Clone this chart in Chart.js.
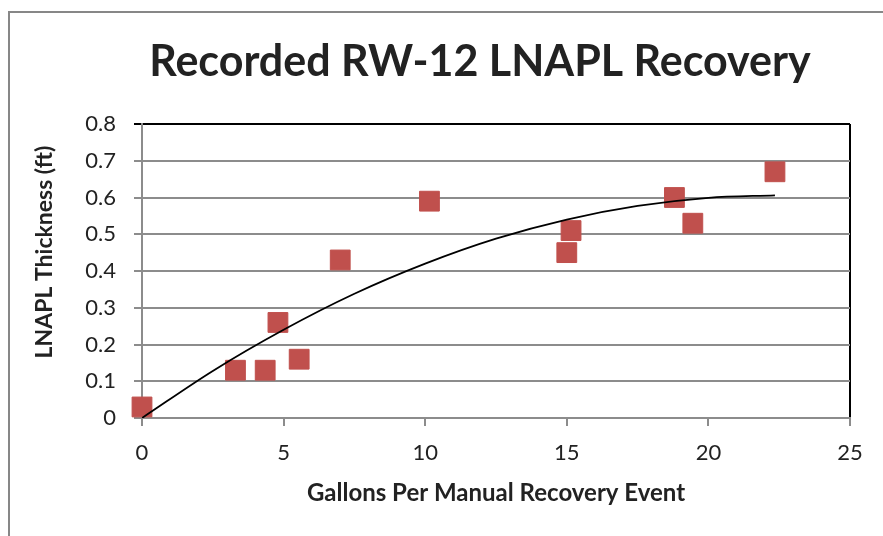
<!DOCTYPE html>
<html>
<head>
<meta charset="utf-8">
<title>Recorded RW-12 LNAPL Recovery</title>
<script src="https://cdn.jsdelivr.net/npm/chart.js@4.4.1/dist/chart.umd.min.js"></script>
<style>
    html, body { margin: 0; padding: 0; background: #fff; overflow: hidden; }
    #wrap { position: relative; width: 883px; height: 536px; }
    #frame {
        position: absolute; left: 8px; top: 11px; width: 900px; height: 560px;
        border-left: 2px solid #878787; border-top: 2px solid #878787;
    }
    #mainChart { position: absolute; left: 0; top: 0; }
</style>
</head>
<body>
<div id="wrap">
    <div id="frame"></div>
    <canvas id="mainChart" width="883" height="536"></canvas>
</div>
<script>
// 数据
const gallons = [0, 3.3, 4.35, 4.8, 5.55, 7.0, 10.15, 15.0, 15.15, 18.8, 19.45, 22.35];
const thickness = [0.03, 0.13, 0.13, 0.26, 0.16, 0.43, 0.59, 0.45, 0.51, 0.60, 0.53, 0.67];

// 趋势线 (二次多项式, 按图读点)
const trendX = [0, 2.5, 5, 7.5, 10, 12.5, 15, 17.5, 20, 22.35];
const trendY = [0, 0.128, 0.240, 0.338, 0.420, 0.488, 0.540, 0.577, 0.599, 0.606];

// 刻度标签
const xTickLabels = ['0', '5', '10', '15', '20', '25'];
const yTickLabels = ['0', '0.1', '0.2', '0.3', '0.4', '0.5', '0.6', '0.7', '0.8'];

const chartTitle = 'Recorded RW-12 LNAPL Recovery';
const xAxisTitle = 'Gallons Per Manual Recovery Event';
const yAxisTitle = 'LNAPL Thickness (ft)';

const FONT = 'Lato, "Open Sans", sans-serif';
const GRID_GRAY = '#8c8c8c';
const TEXT_COLOR = '#222';

// 标题和纵轴标题 (Excel 中位置不在绘图区正中)
const titlesPlugin = {
    id: 'excelTitles',
    afterDraw(chart) {
        const ctx = chart.ctx;
        ctx.save();
        ctx.fillStyle = TEXT_COLOR;
        ctx.textAlign = 'center';

        ctx.font = 'bold 43px ' + FONT;
        ctx.textBaseline = 'alphabetic';
        ctx.fillText(chartTitle, 480, 76);

        ctx.translate(45, 252);
        ctx.rotate(-Math.PI / 2);
        ctx.font = 'bold 23px ' + FONT;
        ctx.textBaseline = 'middle';
        ctx.fillText(yAxisTitle, 0, 0);
        ctx.restore();
    }
};

const ctx = document.getElementById('mainChart').getContext('2d');

new Chart(ctx, {
    type: 'scatter',
    data: {
        datasets: [
            {
                label: 'Trend',
                type: 'line',
                data: trendX.map((x, i) => ({ x: x, y: trendY[i] })),
                borderColor: '#000',
                borderWidth: 1.8,
                pointRadius: 0,
                fill: false,
                cubicInterpolationMode: 'monotone',
                order: 0
            },
            {
                label: 'LNAPL Thickness',
                data: gallons.map((x, i) => ({ x: x, y: thickness[i] })),
                pointStyle: 'rect',
                pointRadius: 14,
                backgroundColor: '#C0504D',
                borderColor: '#C0504D',
                borderWidth: 1,
                clip: false,
                order: 1
            }
        ]
    },
    options: {
        responsive: false,
        animation: false,
        layout: { padding: { left: 0, right: 33, top: 124, bottom: 0 } },
        plugins: {
            legend: { display: false },
            tooltip: { enabled: false },
            title: { display: false }
        },
        scales: {
            x: {
                type: 'linear',
                min: 0,
                max: 25,
                afterFit(scale) { scale.height = 118; },
                afterBuildTicks(scale) {
                    scale.ticks = xTickLabels.map(v => ({ value: Number(v) }));
                },
                ticks: {
                    color: TEXT_COLOR,
                    font: { family: FONT, size: 22 },
                    padding: 14,
                    callback: (v, i) => xTickLabels[i]
                },
                grid: {
                    color: c => (c.tick && c.tick.value === 25 ? '#000' : 'rgba(0,0,0,0)'),
                    tickColor: GRID_GRAY,
                    lineWidth: 2,
                    tickLength: 8
                },
                border: { color: GRID_GRAY, width: 2 },
                title: {
                    display: true,
                    text: xAxisTitle,
                    color: TEXT_COLOR,
                    font: { family: FONT, size: 24, weight: 'bold', lineHeight: 1.2 },
                    padding: { top: 0, bottom: 28 }
                }
            },
            y: {
                type: 'linear',
                min: 0,
                max: 0.8,
                afterFit(scale) { scale.width = 142; },
                afterBuildTicks(scale) {
                    scale.ticks = yTickLabels.map(v => ({ value: Number(v) }));
                },
                ticks: {
                    color: TEXT_COLOR,
                    font: { family: FONT, size: 22 },
                    padding: 18,
                    callback: (v, i) => yTickLabels[i]
                },
                grid: {
                    color: c => (c.tick && c.tick.value === 0.8 ? '#000' : GRID_GRAY),
                    lineWidth: 2,
                    tickLength: 8
                },
                border: { color: GRID_GRAY, width: 2 }
            }
        }
    },
    plugins: [titlesPlugin]
});
</script>
</body>
</html>
